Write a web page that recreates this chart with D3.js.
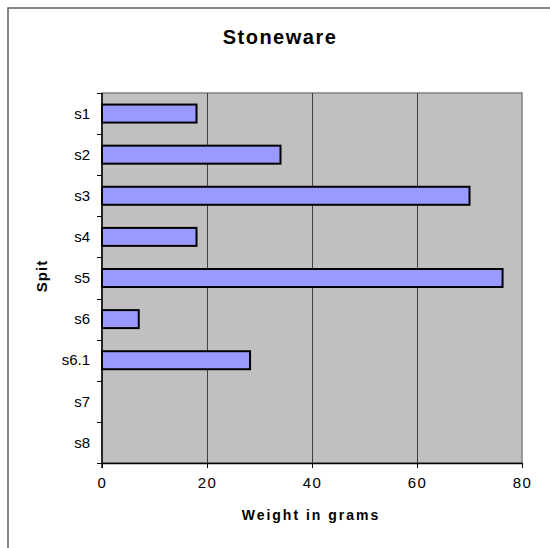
<!DOCTYPE html>
<html>
<head>
<meta charset="utf-8">
<script src="https://cdn.jsdelivr.net/npm/d3@7"></script>
<style>
  html, body { margin: 0; padding: 0; background: #fff; }
  svg { display: block; font-family: "Liberation Sans", Arial, sans-serif; }
</style>
</head>
<body>
<svg id="chart" width="550" height="548"></svg>
<script>
// Stoneware weight per spit
const spits = ["s1", "s2", "s3", "s4", "s5", "s6", "s6.1", "s7", "s8"];
const weights = [18, 34, 70, 18, 76.3, 7, 28.2, 0, 0];
const xTicks = [0, 20, 40, 60, 80];

const svg = d3.select("#chart");
const plot = { left: 102, right: 522, top: 93, bottom: 463 };

// outer frame (right and bottom edges run past the canvas)
svg.append("rect")
  .attr("x", 8).attr("y", 8)
  .attr("width", 560).attr("height", 560)
  .attr("fill", "#fff").attr("stroke", "#606060").attr("stroke-width", 1.5);

const x = d3.scaleLinear().domain([0, 80]).range([plot.left, plot.right]);
const yBand = d3.scaleBand().domain(spits).range([plot.top, plot.bottom]);
const barH = 18;

// plot background
svg.append("rect")
  .attr("x", plot.left).attr("y", plot.top)
  .attr("width", plot.right - plot.left).attr("height", plot.bottom - plot.top)
  .attr("fill", "#c0c0c0").attr("stroke", "#808080").attr("stroke-width", 1.5);

// vertical gridlines
svg.append("g").selectAll("line")
  .data(xTicks.filter(d => d > 0 && d < 80))
  .join("line")
  .attr("x1", d => Math.round(x(d)) + 0.5).attr("x2", d => Math.round(x(d)) + 0.5)
  .attr("y1", plot.top).attr("y2", plot.bottom)
  .attr("stroke", "#404040").attr("stroke-width", 1);

// bars
svg.append("g").selectAll("rect")
  .data(spits.map((s, i) => ({ s, v: weights[i] })).filter(d => d.v > 0))
  .join("rect")
  .attr("x", x(0))
  .attr("y", d => yBand(d.s) + (yBand.bandwidth() - barH) / 2)
  .attr("width", d => x(d.v) - x(0))
  .attr("height", barH)
  .attr("fill", "#9999ff")
  .attr("stroke", "#000").attr("stroke-width", 2);

// x axis
const xAxis = svg.append("g")
  .attr("transform", `translate(0,${plot.bottom})`)
  .call(d3.axisBottom(x).tickValues(xTicks).tickSize(5).tickPadding(9).tickSizeOuter(0));
xAxis.select(".domain").attr("stroke", "#000").attr("stroke-width", 1.5);
xAxis.selectAll(".tick line").attr("stroke", "#000");
xAxis.selectAll("text")
  .attr("font-size", 15).attr("fill", "#000")
  .attr("font-family", "Liberation Sans, Arial, sans-serif")
  .attr("letter-spacing", "1.5px");

// y axis: ticks at category boundaries
const yAxisG = svg.append("g");
yAxisG.append("line")
  .attr("x1", plot.left).attr("x2", plot.left)
  .attr("y1", plot.top).attr("y2", plot.bottom + 5)
  .attr("stroke", "#000").attr("stroke-width", 1.5);
const bounds = spits.map(s => yBand(s)).concat([plot.bottom]);
yAxisG.selectAll("line.tk")
  .data(bounds)
  .join("line").attr("class", "tk")
  .attr("x1", plot.left - 5).attr("x2", plot.left)
  .attr("y1", d => Math.round(d) + 0.5).attr("y2", d => Math.round(d) + 0.5)
  .attr("stroke", "#000");
yAxisG.selectAll("text")
  .data(spits)
  .join("text")
  .attr("x", plot.left - 12)
  .attr("y", d => yBand(d) + yBand.bandwidth() / 2)
  .attr("dy", "0.35em")
  .attr("text-anchor", "end")
  .attr("font-size", 15)
  .attr("fill", "#000")
  .text(d => d);

// title
svg.append("text")
  .attr("x", 280).attr("y", 44)
  .attr("text-anchor", "middle")
  .attr("font-size", 20).attr("font-weight", "bold")
  .attr("letter-spacing", "1.5px")
  .text("Stoneware");

// axis titles
svg.append("text")
  .attr("x", 311).attr("y", 520)
  .attr("text-anchor", "middle")
  .attr("font-size", 14).attr("font-weight", "bold")
  .attr("letter-spacing", "2px")
  .text("Weight in grams");

svg.append("text")
  .attr("transform", "translate(47,276) rotate(-90)")
  .attr("text-anchor", "middle")
  .attr("font-size", 15).attr("font-weight", "bold")
  .attr("letter-spacing", "1px")
  .text("Spit");
</script>
</body>
</html>
